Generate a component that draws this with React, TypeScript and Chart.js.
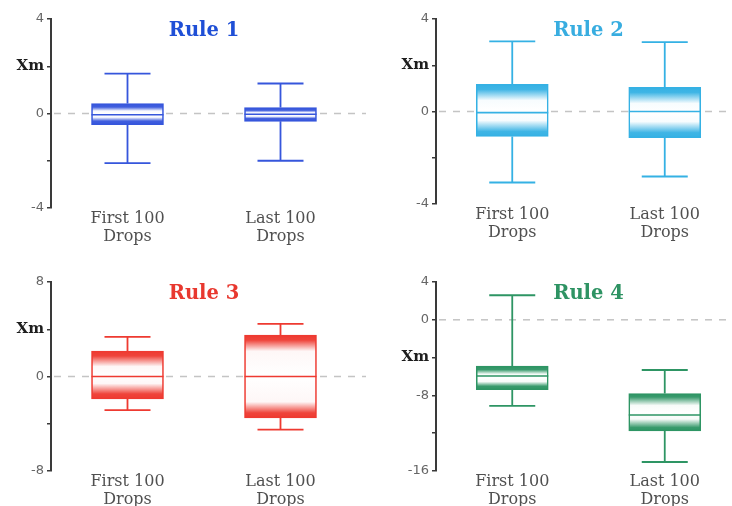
import { useEffect, useRef } from "react";
import { Chart, registerables } from "chart.js";

Chart.register(...registerables);

// Shared category labels (two-line x ticks)
const categories = [
  ["First 100", "Drops"],
  ["Last 100", "Drops"],
];

// Rule 1
const rule1Min = [-2.1, -2.0];
const rule1Q1 = [-0.47, -0.33];
const rule1Median = [-0.05, -0.03];
const rule1Q3 = [0.42, 0.25];
const rule1Max = [1.69, 1.27];
const rule1TickValues = [4, 2, 0, -2, -4];
const rule1TickLabels = ["4", "Xm", "0", "", "-4"];

// Rule 2
const rule2Min = [-3.07, -2.81];
const rule2Q1 = [-1.08, -1.13];
const rule2Median = [-0.05, 0];
const rule2Q3 = [1.17, 1.04];
const rule2Max = [3.03, 3.0];
const rule2TickValues = [4, 2, 0, -2, -4];
const rule2TickLabels = ["4", "Xm", "0", "", "-4"];

// Rule 3
const rule3Min = [-2.84, -4.5];
const rule3Q1 = [-1.9, -3.5];
const rule3Median = [0, 0];
const rule3Q3 = [2.16, 3.5];
const rule3Max = [3.35, 4.45];
const rule3TickValues = [8, 4, 0, -4, -8];
const rule3TickLabels = ["8", "Xm", "0", "", "-8"];

// Rule 4
const rule4Min = [-9.1, -15.05];
const rule4Q1 = [-7.4, -11.77];
const rule4Median = [-5.95, -10.07];
const rule4Q3 = [-4.9, -7.8];
const rule4Max = [2.6, -5.31];
const rule4TickValues = [4, 0, -4, -8, -12, -16];
const rule4TickLabels = ["4", "0", "Xm", "-8", "", "-16"];

type Series = {
  title: string;
  color: string;
  titleColor: string;
  min: number[];
  q1: number[];
  median: number[];
  q3: number[];
  max: number[];
  tickValues: number[];
  tickLabels: string[];
};

type Frame = {
  left: number;
  top: number;
  width: number;
  height: number;
  areaLeft: number;
  areaTop: number;
  areaBottom: number;
  areaWidth: number;
};

const panels: { series: Series; frame: Frame }[] = [
  {
    series: {
      title: "Rule 1",
      color: "#3656dc",
      titleColor: "#1f4fd6",
      min: rule1Min,
      q1: rule1Q1,
      median: rule1Median,
      q3: rule1Q3,
      max: rule1Max,
      tickValues: rule1TickValues,
      tickLabels: rule1TickLabels,
    },
    frame: { left: 0, top: 0, width: 366, height: 253, areaLeft: 51, areaTop: 19, areaBottom: 208, areaWidth: 306 },
  },
  {
    series: {
      title: "Rule 2",
      color: "#35b1e4",
      titleColor: "#38ade0",
      min: rule2Min,
      q1: rule2Q1,
      median: rule2Median,
      q3: rule2Q3,
      max: rule2Max,
      tickValues: rule2TickValues,
      tickLabels: rule2TickLabels,
    },
    frame: { left: 366, top: 0, width: 375, height: 253, areaLeft: 70, areaTop: 19, areaBottom: 204, areaWidth: 305 },
  },
  {
    series: {
      title: "Rule 3",
      color: "#ee3a31",
      titleColor: "#e8382f",
      min: rule3Min,
      q1: rule3Q1,
      median: rule3Median,
      q3: rule3Q3,
      max: rule3Max,
      tickValues: rule3TickValues,
      tickLabels: rule3TickLabels,
    },
    frame: { left: 0, top: 253, width: 366, height: 253, areaLeft: 51, areaTop: 29, areaBottom: 218, areaWidth: 306 },
  },
  {
    series: {
      title: "Rule 4",
      color: "#2e9564",
      titleColor: "#2e9363",
      min: rule4Min,
      q1: rule4Q1,
      median: rule4Median,
      q3: rule4Q3,
      max: rule4Max,
      tickValues: rule4TickValues,
      tickLabels: rule4TickLabels,
    },
    frame: { left: 366, top: 253, width: 375, height: 253, areaLeft: 70, areaTop: 29, areaBottom: 218, areaWidth: 305 },
  },
];

// Mix a hex colour with white; t = 1 gives the full colour, t = 0 gives white
function tint(hex: string, t: number) {
  const n = parseInt(hex.slice(1), 16);
  const mix = (c: number) => Math.round(255 + (c - 255) * t);
  return `rgb(${mix((n >> 16) & 255)},${mix((n >> 8) & 255)},${mix(n & 255)})`;
}

// Box fill: saturated bands at the quartile edges fading to white inside
function boxGradient(ctx: any, color: string) {
  const chart = ctx.chart;
  const raw = ctx.raw;
  if (!chart.chartArea || !chart.scales.y || !Array.isArray(raw)) return "#ffffff";
  const y = chart.scales.y;
  const yTop = y.getPixelForValue(Math.max(raw[0], raw[1]));
  const yBot = y.getPixelForValue(Math.min(raw[0], raw[1]));
  const h = Math.max(yBot - yTop, 1);
  const solid = h > 40 ? 5 : Math.min(3.5, h / 5);
  const fade = Math.min(11, Math.max(2, (h / 2 - solid) * 0.55));
  const g = chart.ctx.createLinearGradient(0, yTop, 0, yBot);
  g.addColorStop(0, tint(color, 1));
  g.addColorStop(solid / h, tint(color, 0.95));
  g.addColorStop((solid + fade) / h, tint(color, 0.04));
  g.addColorStop(0.5, tint(color, 0));
  g.addColorStop(1 - (solid + fade) / h, tint(color, 0.04));
  g.addColorStop(1 - solid / h, tint(color, 0.95));
  g.addColorStop(1, tint(color, 1));
  return g;
}

const boxPlotPlugin = {
  id: "boxPlot",
  beforeDatasetsDraw(chart: any, _args: any, opts: any) {
    const { ctx, chartArea } = chart;
    const y = chart.scales.y;
    // dashed zero reference
    const y0 = y.getPixelForValue(0);
    ctx.save();
    ctx.strokeStyle = "#c4c4c4";
    ctx.lineWidth = 1.5;
    ctx.setLineDash([7, 7]);
    ctx.beginPath();
    ctx.moveTo(chartArea.left + 3, y0);
    ctx.lineTo(chart.width, y0);
    ctx.stroke();
    ctx.restore();

    // whiskers and caps
    const meta = chart.getDatasetMeta(0);
    ctx.save();
    ctx.strokeStyle = opts.color;
    ctx.lineWidth = 1.8;
    meta.data.forEach((bar: any, i: number) => {
      const x = bar.x;
      const capHalf = 23;
      const yMax = y.getPixelForValue(opts.max[i]);
      const yMin = y.getPixelForValue(opts.min[i]);
      const yQ3 = y.getPixelForValue(opts.q3[i]);
      const yQ1 = y.getPixelForValue(opts.q1[i]);
      ctx.beginPath();
      ctx.moveTo(x, yQ3);
      ctx.lineTo(x, yMax);
      ctx.moveTo(x - capHalf, yMax);
      ctx.lineTo(x + capHalf, yMax);
      ctx.moveTo(x, yQ1);
      ctx.lineTo(x, yMin);
      ctx.moveTo(x - capHalf, yMin);
      ctx.lineTo(x + capHalf, yMin);
      ctx.stroke();
    });
    ctx.restore();
  },
  afterDatasetsDraw(chart: any, _args: any, opts: any) {
    const { ctx } = chart;
    const y = chart.scales.y;
    const meta = chart.getDatasetMeta(0);
    ctx.save();
    ctx.strokeStyle = opts.color;
    ctx.lineWidth = 1.6;
    meta.data.forEach((bar: any, i: number) => {
      const half = bar.width / 2;
      const ym = y.getPixelForValue(opts.median[i]);
      ctx.beginPath();
      ctx.moveTo(bar.x - half, ym);
      ctx.lineTo(bar.x + half, ym);
      ctx.stroke();
    });
    ctx.restore();
  },
  afterDraw(chart: any, _args: any, opts: any) {
    const { ctx, chartArea } = chart;
    ctx.save();
    ctx.font = 'bold 19.5px "DejaVu Serif"';
    ctx.fillStyle = opts.titleColor;
    ctx.textAlign = "center";
    ctx.textBaseline = "middle";
    ctx.fillText(opts.title, (chartArea.left + chartArea.right) / 2, chartArea.top + 11.5);
    ctx.restore();
  },
};

function BoxPanel({ series, frame }: { series: Series; frame: Frame }) {
  const ref = useRef<HTMLCanvasElement | null>(null);

  useEffect(() => {
    if (!ref.current) return;
    const s = series;
    const f = frame;
    const chart = new Chart(ref.current, {
      type: "bar",
      data: {
        labels: categories,
        datasets: [
          {
            data: s.q1.map((v, i) => [v, s.q3[i]]),
            barThickness: 72,
            borderWidth: 1.6,
            borderColor: s.color,
            borderSkipped: false,
            backgroundColor: (ctx: any) => boxGradient(ctx, s.color),
          } as any,
        ],
      },
      options: {
        animation: false,
        responsive: false,
        maintainAspectRatio: false,
        layout: {
          padding: { top: f.areaTop, left: 0, bottom: 0, right: f.width - f.areaLeft - f.areaWidth },
        },
        plugins: {
          legend: { display: false },
          tooltip: { enabled: false },
          title: { display: false },
          boxPlot: {
            color: s.color,
            titleColor: s.titleColor,
            title: s.title,
            min: s.min,
            max: s.max,
            q1: s.q1,
            q3: s.q3,
            median: s.median,
          },
        } as any,
        scales: {
          x: {
            type: "category",
            offset: true,
            grid: { display: false, drawTicks: false },
            border: { display: false },
            ticks: {
              color: "#505050",
              padding: 2,
              maxRotation: 0,
              font: { family: '"DejaVu Serif"', size: 16, lineHeight: 1.12 },
            },
            afterFit: (scale: any) => {
              scale.height = f.height - f.areaBottom;
            },
          },
          y: {
            type: "linear",
            min: Math.min(...s.tickValues),
            max: Math.max(...s.tickValues),
            afterBuildTicks: (scale: any) => {
              scale.ticks = s.tickValues.map((v) => ({ value: v }));
            },
            afterFit: (scale: any) => {
              scale.width = f.areaLeft;
            },
            grid: {
              drawOnChartArea: false,
              drawTicks: true,
              tickLength: 4,
              color: "#3a3a3a",
              lineWidth: 1.5,
            },
            border: { display: true, color: "#3a3a3a", width: 2 },
            ticks: {
              padding: 3,
              callback: (value: any) => {
                const idx = s.tickValues.indexOf(Number(value));
                return idx >= 0 ? s.tickLabels[idx] : "";
              },
              color: (ctx: any) => (ctx.tick && ctx.tick.label === "Xm" ? "#1e1e1e" : "#666"),
              font: (ctx: any) =>
                ctx.tick && ctx.tick.label === "Xm"
                  ? { family: '"DejaVu Serif"', size: 15, weight: "bold" }
                  : { family: '"DejaVu Sans"', size: 13 },
            },
          },
        },
      } as any,
      plugins: [boxPlotPlugin as any],
    });
    return () => chart.destroy();
  }, [series, frame]);

  return (
    <canvas
      ref={ref}
      width={frame.width}
      height={frame.height}
      style={{
        position: "absolute",
        left: frame.left,
        top: frame.top,
        width: frame.width,
        height: frame.height,
      }}
    />
  );
}

export default function App() {
  return (
    <div
      style={{
        position: "fixed",
        left: 0,
        top: 0,
        width: 732,
        height: 506,
        overflow: "hidden",
        background: "#ffffff",
      }}
    >
      {panels.map((p) => (
        <BoxPanel key={p.series.title} series={p.series} frame={p.frame} />
      ))}
    </div>
  );
}
